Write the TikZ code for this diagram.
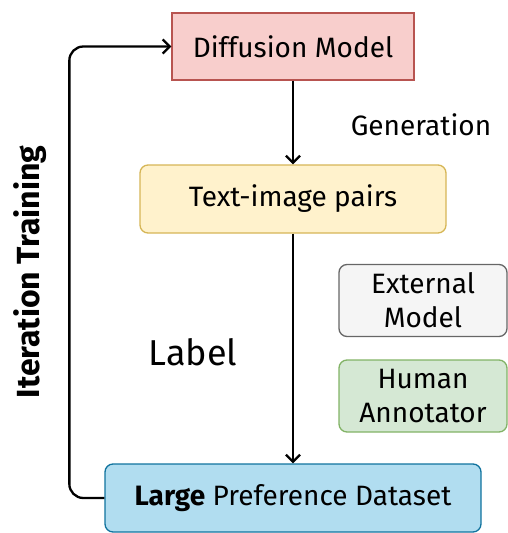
\documentclass[tikz,border=0pt]{standalone}
\usepackage{fontspec}
\setmainfont{Fira Sans}
\usetikzlibrary{arrows.meta}
\definecolor{diffFill}{HTML}{F8CECC}
\definecolor{diffLine}{HTML}{B85450}
\definecolor{pairFill}{HTML}{FFF2CC}
\definecolor{pairLine}{HTML}{D6B656}
\definecolor{extFill}{HTML}{F5F5F5}
\definecolor{extLine}{HTML}{666666}
\definecolor{humFill}{HTML}{D5E8D4}
\definecolor{humLine}{HTML}{82B366}
\definecolor{dataFill}{HTML}{B1DDF0}
\definecolor{dataLine}{HTML}{10739E}

\begin{document}
\begin{tikzpicture}[x=1pt,y=1pt]
    \tikzstyle{every node}+=[inner sep=0pt, font=\fontsize{28}{34}\selectfont]
    \tikzstyle{box}=[draw, line width=1.3pt, minimum width=168pt, minimum height=72pt, align=center]
    \tikzstyle{flow}=[draw, line width=2.3pt, -{Straight Barb[length=7pt,width=14pt]}]
    \useasboundingbox (0,0) rectangle (508,-533);
    \node [box, fill=diffFill, draw=diffLine, minimum width=242pt, minimum height=67pt] (diff) at (293,-46.5) {Diffusion Model};
    \node [box, rounded corners=8pt, fill=pairFill, draw=pairLine, minimum width=306pt, minimum height=68pt] (pairs) at (293,-199) {Text-image pairs};
    \node [box, rounded corners=8pt, fill=extFill, draw=extLine] (ext) at (423,-300.5) {External\\Model};
    \node [box, rounded corners=8pt, fill=humFill, draw=humLine] (human) at (423,-396) {Human\\Annotator};
    \node [box, rounded corners=8pt, fill=dataFill, draw=dataLine, minimum width=376pt, minimum height=68pt] (data) at (293,-498) {\textbf{Large} Preference Dataset};
    \node (gen) at (421,-125) {Generation};
    \node [font=\fontsize{36}{42}\selectfont] (lab) at (193,-352) {Label};
    \node [rotate=90, font=\bfseries\fontsize{32}{38}\selectfont] (iter) at (30,-272) {Iteration Training};
    \draw [flow] (diff) -- (pairs);
    \draw [flow] (pairs) -- (data);
    \draw [flow, rounded corners=14pt] (data.west) -- ++(-35,0) |- (diff.west);
\end{tikzpicture}
\end{document}
